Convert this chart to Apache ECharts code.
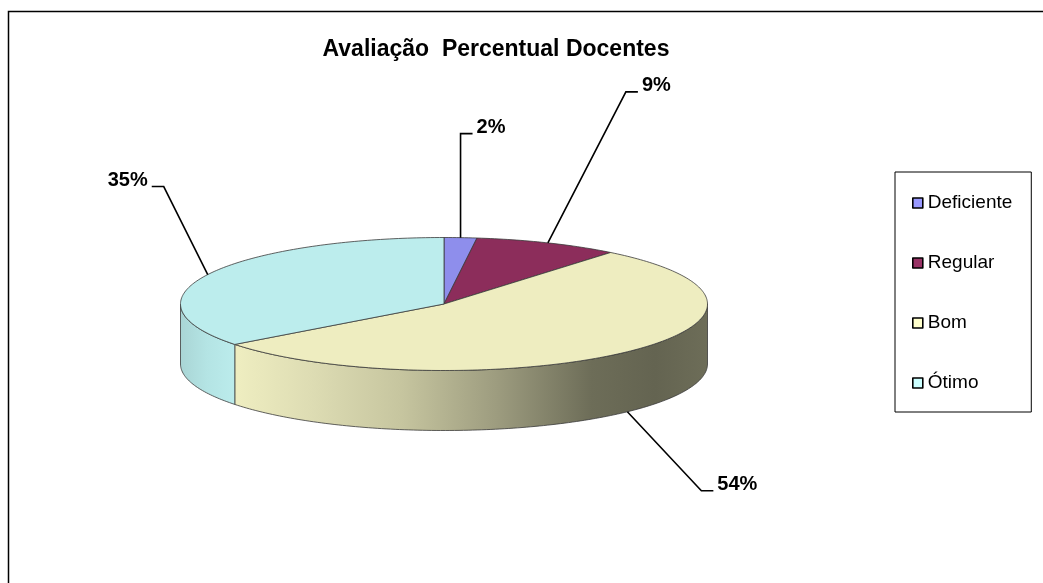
<!DOCTYPE html>
<html>
<head>
<meta charset="utf-8">
<script src="https://cdn.jsdelivr.net/npm/echarts@6/dist/echarts.min.js"></script>
<style>
html,body{margin:0;padding:0;background:#fff;}
#chart{width:1043px;height:583px;}
</style>
</head>
<body>
<div id="chart"></div>
<script>
// ---- data ----
const titleText = 'Avaliação  Percentual Docentes';
const categories = ['Deficiente', 'Regular', 'Bom', 'Ótimo'];
const values = [2.0, 8.9, 53.7, 35.4];

// ---- styles / layout ----
const topColors = ['#8E8EEC', '#8C2D5B', '#EEEDC0', '#BCEDED'];
const legendColors = ['#9999FF', '#993366', '#FFFFCC', '#CCFFFF'];
const PIE = { cx: 444, cy: 304, rx: 263.5, ry: 66.5, depth: 60 };
const labelOffsets = [[0, -104], [78, -151], [74, 79], [-44, -88]];

const total = values.reduce((a, b) => a + b, 0);
const DEG = Math.PI / 180;

function pt(theta, dy) {
  return [PIE.cx + PIE.rx * Math.sin(theta * DEG), PIE.cy - PIE.ry * Math.cos(theta * DEG) + (dy || 0)];
}
function arc(a, b, dy) {
  const pts = [];
  const n = Math.max(2, Math.ceil(Math.abs(b - a) / 1));
  for (let i = 0; i <= n; i++) pts.push(pt(a + (b - a) * i / n, dy));
  return pts;
}
function shade(hex, f) {
  const r = parseInt(hex.slice(1, 3), 16), g = parseInt(hex.slice(3, 5), 16), b = parseInt(hex.slice(5, 7), 16);
  const c = v => Math.max(0, Math.min(255, Math.round(v * f)));
  return 'rgb(' + c(r) + ',' + c(g) + ',' + c(b) + ')';
}
function wallGradient(hex) {
  const stops = [[0, 0.9], [0.05, 0.96], [0.11, 1.0], [0.25, 0.93], [0.42, 0.83], [0.6, 0.66], [0.78, 0.46], [0.9, 0.42], [1, 0.46]];
  return {
    type: 'linear', global: true,
    x: PIE.cx - PIE.rx, y: 0, x2: PIE.cx + PIE.rx, y2: 0,
    colorStops: stops.map(s => ({ offset: s[0], color: shade(hex, s[1]) }))
  };
}

function renderItem(params, api) {
  const i = params.dataIndex;
  const v = api.value(0);
  let before = 0;
  for (let k = 0; k < i; k++) before += values[k];
  const t0 = before / total * 360;
  const t1 = (before + v) / total * 360;
  const children = [];
  // side wall (front half only)
  const a = Math.max(t0, 90), b = Math.min(t1, 270);
  if (a < b) {
    const pts = arc(a, b, 0).concat(arc(b, a, PIE.depth));
    children.push({
      type: 'polygon', shape: { points: pts },
      style: { fill: wallGradient(topColors[i]), stroke: '#3a3a3a', lineWidth: 0.8 }
    });
  }
  // top face
  const topPts = [[PIE.cx, PIE.cy]].concat(arc(t0, t1, 0));
  children.push({
    type: 'polygon', shape: { points: topPts },
    style: { fill: topColors[i], stroke: '#3a3a3a', lineWidth: 0.8 }
  });
  // label with leader line
  const mid = (t0 + t1) / 2;
  const front = mid > 90 && mid < 270;
  const anchor = pt(mid, front ? PIE.depth : 0);
  const off = labelOffsets[i];
  const end = [anchor[0] + off[0], anchor[1] + off[1]];
  const dir = off[0] >= 0 ? 1 : -1;
  const tail = [end[0] + 12 * dir, end[1]];
  children.push({
    type: 'polyline', shape: { points: [anchor, end, tail] },
    style: { stroke: '#000', lineWidth: 1.6, fill: null }
  });
  children.push({
    type: 'text',
    style: {
      x: tail[0] + 4 * dir, y: end[1] - 6,
      text: Math.round(v / total * 100) + '%',
      fill: '#000', font: 'bold 20px Arial, "Liberation Sans", sans-serif',
      align: dir > 0 ? 'left' : 'right', verticalAlign: 'middle'
    }
  });
  return { type: 'group', children: children };
}

const chart = echarts.init(document.getElementById('chart'));
chart.setOption({
  backgroundColor: '#fff',
  animation: false,
  title: {
    text: titleText, left: 491, top: 33, textAlign: 'center',
    textStyle: { fontFamily: 'Arial, "Liberation Sans", sans-serif', fontWeight: 'bold', fontSize: 23, color: '#000' }
  },
  legend: {
    orient: 'vertical', left: 895, top: 172,
    data: categories,
    selectedMode: false,
    icon: 'rect', itemWidth: 10, itemHeight: 10, itemGap: 40,
    padding: [21, 19, 19, 17],
    borderColor: '#000', borderWidth: 1,
    itemStyle: { borderColor: '#000', borderWidth: 1.6 },
    textStyle: { fontFamily: 'Arial, "Liberation Sans", sans-serif', fontSize: 19, color: '#000', lineHeight: 20 }
  },
  graphic: [{
    type: 'rect', z: -10, silent: true,
    shape: { x: 8.5, y: 11.5, width: 1200, height: 800 },
    style: { fill: 'none', stroke: '#000', lineWidth: 1.5 }
  }],
  series: [
    {
      type: 'custom', coordinateSystem: 'none', silent: true,
      data: values.map((v, i) => ({ name: categories[i], value: v })),
      renderItem: renderItem
    },
    {
      type: 'pie', radius: [0, 0], center: [-100, -100], silent: true,
      label: { show: false }, labelLine: { show: false },
      color: legendColors,
      data: values.map((v, i) => ({ name: categories[i], value: v }))
    }
  ]
});
</script>
</body>
</html>
